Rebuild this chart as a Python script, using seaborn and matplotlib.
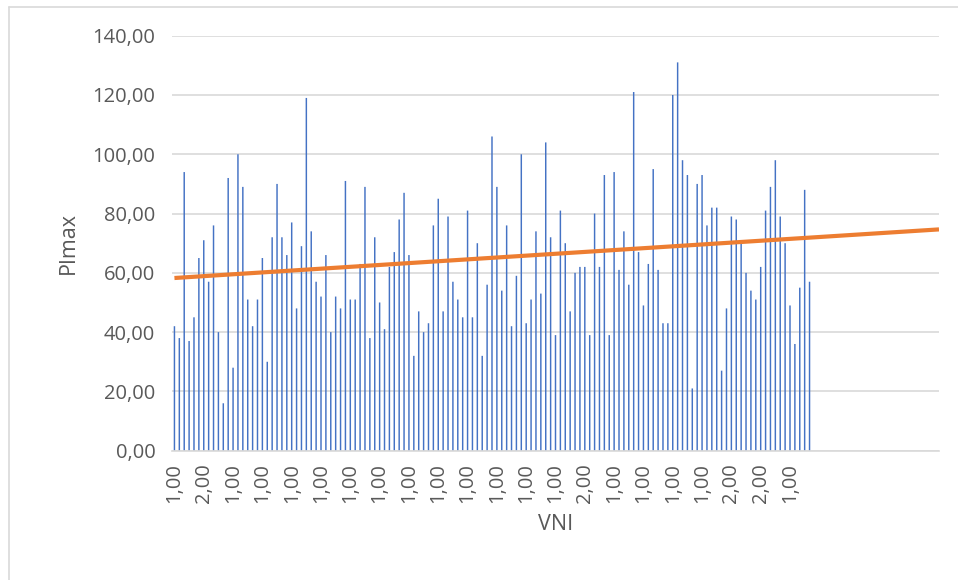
import numpy as np
import pandas as pd
import matplotlib
matplotlib.use("Agg")
import matplotlib.pyplot as plt
from matplotlib.lines import Line2D
import seaborn as sns

pimax = [
    42, 38, 94, 37, 45, 65, 71, 57, 76, 40,
    16, 92, 28, 100, 89, 51, 42, 51, 65, 30,
    72, 90, 72, 66, 77, 48, 69, 119, 74, 57,
    52, 66, 40, 52, 48, 91, 51, 51, 63, 89,
    38, 72, 50, 41, 62, 67, 78, 87, 66, 32,
    47, 40, 43, 76, 85, 47, 79, 57, 51, 45,
    81, 45, 70, 32, 56, 106, 89, 54, 76, 42,
    59, 100, 43, 51, 74, 53, 104, 72, 39, 81,
    70, 47, 60, 62, 62, 39, 80, 62, 93, 39,
    94, 61, 74, 56, 121, 67, 49, 63, 95, 61,
    43, 43, 120, 131, 98, 93, 21, 90, 93, 76,
    82, 82, 27, 48, 79, 78, 70, 60, 54, 51,
    62, 81, 89, 98, 79, 70, 49, 36, 55, 88,
    57,
]
# VNI labels that Excel shows (every 6th category)
vni_labels = [1, 2, 1, 1, 1, 1, 1, 1, 1, 1, 1,
              1, 1, 1, 2, 1, 1, 1, 1, 2, 2, 1]
label_step = 6
n_categories = 157  # range incl. empty rows after the data

df = pd.DataFrame({"obs": np.arange(len(pimax)), "PImax": pimax})

sns.set_theme(style="white")
plt.rcParams["font.family"] = ["Open Sans", "DejaVu Sans"]

fig = plt.figure(figsize=(9.58, 5.8), dpi=100)
ax = fig.add_axes([172 / 958, 1 - 450.7 / 580, (939 - 172) / 958, (450.7 - 35.7) / 580])

ax.yaxis.grid(True, color="#D9D9D9", linewidth=1.2)
ax.set_axisbelow(True)

sns.barplot(data=df, x="obs", y="PImax", color="#4472C4", width=0.3,
            errorbar=None, saturation=1, linewidth=0, ax=ax)
# no pixel snapping so all the thin bars look the same width
for p in ax.patches:
    p.set_snap(False)

# linear trendline over the category index
slope, icpt = np.polyfit(df["obs"], df["PImax"], 1)
xs = np.array([0, n_categories - 0.5])
ax.plot(xs, icpt + slope * xs, color="#ED7D31", linewidth=3, solid_capstyle="butt")

ax.set_xlim(-0.5, n_categories - 0.5)
ax.set_ylim(0, 140)
ax.set_yticks(range(0, 141, 20))
ax.set_yticklabels([f"{v:.2f}".replace(".", ",") for v in range(0, 141, 20)])
ticks = np.arange(len(vni_labels)) * label_step
ax.set_xticks(ticks)
ax.set_xticklabels([f"{v:.2f}".replace(".", ",") for v in vni_labels], rotation=90)
ax.tick_params(axis="both", length=0, labelsize=14.5, labelcolor="#595959")
ax.tick_params(axis="x", pad=9)
ax.tick_params(axis="y", pad=12)

for s in ["top", "right", "left"]:
    ax.spines[s].set_visible(False)
ax.spines["bottom"].set_color("#D9D9D9")
ax.spines["bottom"].set_linewidth(1.2)

ax.set_xlabel("VNI", fontsize=15.5, color="#595959", labelpad=8)
ax.set_ylabel("PImax", fontsize=15.5, color="#595959", labelpad=10)

# chart border (only top and left visible in the crop)
fig.add_artist(Line2D([8.5 / 958, 8.5 / 958], [0, 1 - 6.5 / 580], color="#D9D9D9", lw=1.2))
fig.add_artist(Line2D([8.5 / 958, 1], [1 - 6.5 / 580, 1 - 6.5 / 580], color="#D9D9D9", lw=1.2))

fig.savefig("out.png", dpi=100)
plt.close(fig)
